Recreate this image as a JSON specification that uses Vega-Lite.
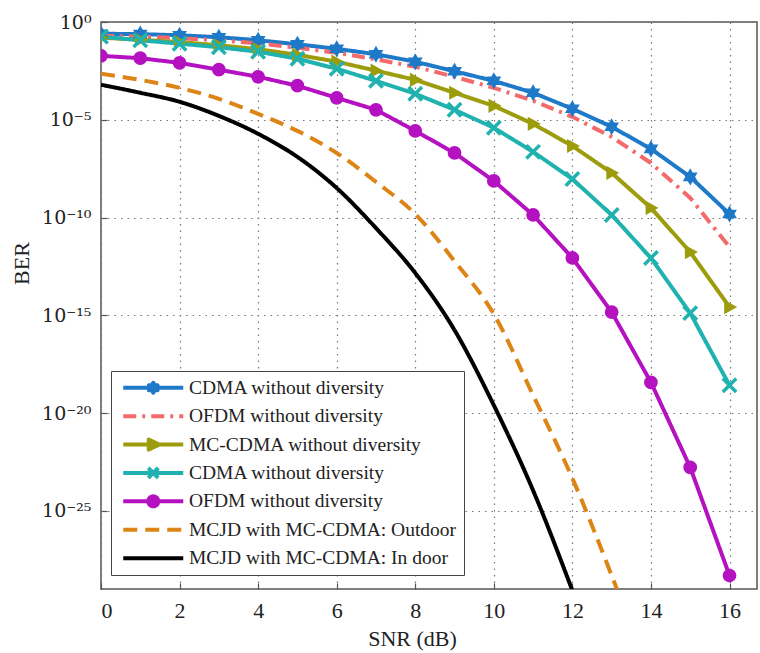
{
  "$schema": "https://vega.github.io/schema/vega-lite/v6.json",
  "autosize": "none",
  "padding": {"left": 101, "top": 22, "right": 3, "bottom": 64},
  "width": 656,
  "height": 567,
  "background": "white",
  "config": {
    "view": {"stroke": "#555555", "strokeWidth": 1.5},
    "font": "Liberation Serif",
    "axis": {
      "labelFont": "Liberation Serif",
      "titleFont": "Liberation Serif",
      "labelFontSize": 22,
      "titleFontSize": 22,
      "titleFontWeight": "normal",
      "labelColor": "#222222",
      "titleColor": "#222222",
      "domain": false,
      "tickColor": "#555555",
      "tickSize": -6,
      "tickWidth": 1.2,
      "grid": true,
      "gridColor": "#777777",
      "gridDash": [1.5, 5],
      "gridWidth": 1.2,
      "gridOpacity": 1
    },
    "legend": {
      "orient": "none",
      "legendX": 10,
      "legendY": 349,
      "labelFont": "Liberation Serif",
      "labelFontSize": 19.5,
      "labelColor": "#222222",
      "symbolSize": 100,
      "symbolStrokeWidth": 4,
      "rowPadding": 7.4,
      "padding": 7,
      "strokeColor": "#444444",
      "fillColor": "white",
      "symbolOffset": 25.5,
      "labelOffset": 26,
      "labelLimit": 400
    }
  },
  "data": {
    "values": [
      {"snr": 0, "ber": 2.51e-1, "series": "CDMA without diversity #1"},
      {"snr": 1, "ber": 2.40e-1, "series": "CDMA without diversity #1"},
      {"snr": 2, "ber": 2.09e-1, "series": "CDMA without diversity #1"},
      {"snr": 3, "ber": 1.66e-1, "series": "CDMA without diversity #1"},
      {"snr": 4, "ber": 1.17e-1, "series": "CDMA without diversity #1"},
      {"snr": 5, "ber": 7.24e-2, "series": "CDMA without diversity #1"},
      {"snr": 6, "ber": 4.27e-2, "series": "CDMA without diversity #1"},
      {"snr": 7, "ber": 2.24e-2, "series": "CDMA without diversity #1"},
      {"snr": 8, "ber": 9.33e-3, "series": "CDMA without diversity #1"},
      {"snr": 9, "ber": 3.02e-3, "series": "CDMA without diversity #1"},
      {"snr": 10, "ber": 9.77e-4, "series": "CDMA without diversity #1"},
      {"snr": 11, "ber": 2.40e-4, "series": "CDMA without diversity #1"},
      {"snr": 12, "ber": 3.63e-5, "series": "CDMA without diversity #1"},
      {"snr": 13, "ber": 4.37e-6, "series": "CDMA without diversity #1"},
      {"snr": 14, "ber": 3.24e-7, "series": "CDMA without diversity #1"},
      {"snr": 15, "ber": 1.20e-8, "series": "CDMA without diversity #1"},
      {"snr": 16, "ber": 1.51e-10, "series": "CDMA without diversity #1"},

      {"snr": 0, "ber": 2.00e-1, "series": "OFDM without diversity #2"},
      {"snr": 1, "ber": 1.78e-1, "series": "OFDM without diversity #2"},
      {"snr": 2, "ber": 1.48e-1, "series": "OFDM without diversity #2"},
      {"snr": 3, "ber": 1.17e-1, "series": "OFDM without diversity #2"},
      {"snr": 4, "ber": 8.13e-2, "series": "OFDM without diversity #2"},
      {"snr": 5, "ber": 4.79e-2, "series": "OFDM without diversity #2"},
      {"snr": 6, "ber": 2.69e-2, "series": "OFDM without diversity #2"},
      {"snr": 7, "ber": 1.23e-2, "series": "OFDM without diversity #2"},
      {"snr": 8, "ber": 5.13e-3, "series": "OFDM without diversity #2"},
      {"snr": 9, "ber": 1.58e-3, "series": "OFDM without diversity #2"},
      {"snr": 10, "ber": 4.27e-4, "series": "OFDM without diversity #2"},
      {"snr": 11, "ber": 9.33e-5, "series": "OFDM without diversity #2"},
      {"snr": 12, "ber": 1.41e-5, "series": "OFDM without diversity #2"},
      {"snr": 13, "ber": 1.32e-6, "series": "OFDM without diversity #2"},
      {"snr": 14, "ber": 6.17e-8, "series": "OFDM without diversity #2"},
      {"snr": 15, "ber": 1.00e-9, "series": "OFDM without diversity #2"},
      {"snr": 16, "ber": 3.09e-12, "series": "OFDM without diversity #2"},

      {"snr": 0, "ber": 1.58e-1, "series": "MC-CDMA without diversity #3"},
      {"snr": 1, "ber": 1.23e-1, "series": "MC-CDMA without diversity #3"},
      {"snr": 2, "ber": 9.33e-2, "series": "MC-CDMA without diversity #3"},
      {"snr": 3, "ber": 6.46e-2, "series": "MC-CDMA without diversity #3"},
      {"snr": 4, "ber": 4.07e-2, "series": "MC-CDMA without diversity #3"},
      {"snr": 5, "ber": 2.09e-2, "series": "MC-CDMA without diversity #3"},
      {"snr": 6, "ber": 9.33e-3, "series": "MC-CDMA without diversity #3"},
      {"snr": 7, "ber": 3.24e-3, "series": "MC-CDMA without diversity #3"},
      {"snr": 8, "ber": 1.10e-3, "series": "MC-CDMA without diversity #3"},
      {"snr": 9, "ber": 2.40e-4, "series": "MC-CDMA without diversity #3"},
      {"snr": 10, "ber": 5.13e-5, "series": "MC-CDMA without diversity #3"},
      {"snr": 11, "ber": 6.17e-6, "series": "MC-CDMA without diversity #3"},
      {"snr": 12, "ber": 4.57e-7, "series": "MC-CDMA without diversity #3"},
      {"snr": 13, "ber": 1.91e-8, "series": "MC-CDMA without diversity #3"},
      {"snr": 14, "ber": 3.09e-10, "series": "MC-CDMA without diversity #3"},
      {"snr": 15, "ber": 1.70e-12, "series": "MC-CDMA without diversity #3"},
      {"snr": 16, "ber": 2.63e-15, "series": "MC-CDMA without diversity #3"},

      {"snr": 0, "ber": 1.78e-1, "series": "CDMA without diversity #4"},
      {"snr": 1, "ber": 1.17e-1, "series": "CDMA without diversity #4"},
      {"snr": 2, "ber": 7.76e-2, "series": "CDMA without diversity #4"},
      {"snr": 3, "ber": 5.13e-2, "series": "CDMA without diversity #4"},
      {"snr": 4, "ber": 3.02e-2, "series": "CDMA without diversity #4"},
      {"snr": 5, "ber": 1.32e-2, "series": "CDMA without diversity #4"},
      {"snr": 6, "ber": 4.07e-3, "series": "CDMA without diversity #4"},
      {"snr": 7, "ber": 9.77e-4, "series": "CDMA without diversity #4"},
      {"snr": 8, "ber": 2.14e-4, "series": "CDMA without diversity #4"},
      {"snr": 9, "ber": 3.24e-5, "series": "CDMA without diversity #4"},
      {"snr": 10, "ber": 3.89e-6, "series": "CDMA without diversity #4"},
      {"snr": 11, "ber": 2.29e-7, "series": "CDMA without diversity #4"},
      {"snr": 12, "ber": 9.33e-9, "series": "CDMA without diversity #4"},
      {"snr": 13, "ber": 1.35e-10, "series": "CDMA without diversity #4"},
      {"snr": 14, "ber": 8.51e-13, "series": "CDMA without diversity #4"},
      {"snr": 15, "ber": 1.29e-15, "series": "CDMA without diversity #4"},
      {"snr": 16, "ber": 2.63e-19, "series": "CDMA without diversity #4"},

      {"snr": 0, "ber": 1.86e-2, "series": "OFDM without diversity #5"},
      {"snr": 1, "ber": 1.41e-2, "series": "OFDM without diversity #5"},
      {"snr": 2, "ber": 8.13e-3, "series": "OFDM without diversity #5"},
      {"snr": 3, "ber": 3.63e-3, "series": "OFDM without diversity #5"},
      {"snr": 4, "ber": 1.58e-3, "series": "OFDM without diversity #5"},
      {"snr": 5, "ber": 5.50e-4, "series": "OFDM without diversity #5"},
      {"snr": 6, "ber": 1.32e-4, "series": "OFDM without diversity #5"},
      {"snr": 7, "ber": 3.24e-5, "series": "OFDM without diversity #5"},
      {"snr": 8, "ber": 2.69e-6, "series": "OFDM without diversity #5"},
      {"snr": 9, "ber": 2.00e-7, "series": "OFDM without diversity #5"},
      {"snr": 10, "ber": 7.41e-9, "series": "OFDM without diversity #5"},
      {"snr": 11, "ber": 1.35e-10, "series": "OFDM without diversity #5"},
      {"snr": 12, "ber": 8.51e-13, "series": "OFDM without diversity #5"},
      {"snr": 13, "ber": 1.45e-15, "series": "OFDM without diversity #5"},
      {"snr": 14, "ber": 3.72e-19, "series": "OFDM without diversity #5"},
      {"snr": 15, "ber": 1.66e-23, "series": "OFDM without diversity #5"},
      {"snr": 16, "ber": 4.90e-29, "series": "OFDM without diversity #5"},

      {"snr": 0, "ber": 2.24e-3, "series": "MCJD with MC-CDMA: Outdoor #6"},
      {"snr": 1, "ber": 1.10e-3, "series": "MCJD with MC-CDMA: Outdoor #6"},
      {"snr": 2, "ber": 4.27e-4, "series": "MCJD with MC-CDMA: Outdoor #6"},
      {"snr": 3, "ber": 1.17e-4, "series": "MCJD with MC-CDMA: Outdoor #6"},
      {"snr": 4, "ber": 2.00e-5, "series": "MCJD with MC-CDMA: Outdoor #6"},
      {"snr": 5, "ber": 2.69e-6, "series": "MCJD with MC-CDMA: Outdoor #6"},
      {"snr": 6, "ber": 2.00e-7, "series": "MCJD with MC-CDMA: Outdoor #6"},
      {"snr": 7, "ber": 6.61e-9, "series": "MCJD with MC-CDMA: Outdoor #6"},
      {"snr": 8, "ber": 1.51e-10, "series": "MCJD with MC-CDMA: Outdoor #6"},
      {"snr": 9, "ber": 5.89e-13, "series": "MCJD with MC-CDMA: Outdoor #6"},
      {"snr": 10, "ber": 1.15e-15, "series": "MCJD with MC-CDMA: Outdoor #6"},
      {"snr": 11, "ber": 8.13e-20, "series": "MCJD with MC-CDMA: Outdoor #6"},
      {"snr": 12, "ber": 4.57e-24, "series": "MCJD with MC-CDMA: Outdoor #6"},
      {"snr": 13, "ber": 4.90e-29, "series": "MCJD with MC-CDMA: Outdoor #6"},
      {"snr": 14, "ber": 2.04e-34, "series": "MCJD with MC-CDMA: Outdoor #6"},

      {"snr": 0, "ber": 6.17e-4, "series": "MCJD with MC-CDMA: In door #7"},
      {"snr": 1, "ber": 2.40e-4, "series": "MCJD with MC-CDMA: In door #7"},
      {"snr": 2, "ber": 8.32e-5, "series": "MCJD with MC-CDMA: In door #7"},
      {"snr": 3, "ber": 1.58e-5, "series": "MCJD with MC-CDMA: In door #7"},
      {"snr": 4, "ber": 1.91e-6, "series": "MCJD with MC-CDMA: In door #7"},
      {"snr": 5, "ber": 1.26e-7, "series": "MCJD with MC-CDMA: In door #7"},
      {"snr": 6, "ber": 3.24e-9, "series": "MCJD with MC-CDMA: In door #7"},
      {"snr": 7, "ber": 2.88e-11, "series": "MCJD with MC-CDMA: In door #7"},
      {"snr": 8, "ber": 1.45e-13, "series": "MCJD with MC-CDMA: In door #7"},
      {"snr": 9, "ber": 1.74e-16, "series": "MCJD with MC-CDMA: In door #7"},
      {"snr": 10, "ber": 2.51e-20, "series": "MCJD with MC-CDMA: In door #7"},
      {"snr": 11, "ber": 1.10e-24, "series": "MCJD with MC-CDMA: In door #7"},
      {"snr": 12, "ber": 8.32e-30, "series": "MCJD with MC-CDMA: In door #7"}
    ]
  },
  "encoding": {
    "x": {
      "field": "snr",
      "type": "quantitative",
      "title": "SNR (dB)",
      "scale": {"domain": [0, 16.7], "nice": false, "zero": false},
      "axis": {"values": [0, 2, 4, 6, 8, 10, 12, 14, 16], "labelPadding": 17, "titleX": 311, "titleY": 49, "titleBaseline": "middle", "titleAlign": "center"}
    },
    "y": {
      "field": "ber",
      "type": "quantitative",
      "title": "BER",
      "scale": {"type": "log", "domain": [1e-29, 1], "nice": false},
      "axis": {
        "values": [1, 1e-5, 1e-10, 1e-15, 1e-20, 1e-25],
        "labelPadding": 16,
        "labelFont": "DejaVu Serif",
        "labelFontSize": 19,
        "labelExpr": "datum.value >= 0.5 ? '10⁰' : datum.value >= 5e-6 ? '10⁻⁵' : datum.value >= 5e-11 ? '10⁻¹⁰' : datum.value >= 5e-16 ? '10⁻¹⁵' : datum.value >= 5e-21 ? '10⁻²⁰' : '10⁻²⁵'",
        "titleX": -80,
        "titleY": 241,
        "titleBaseline": "middle",
        "titleAlign": "center"
      }
    }
  },
  "layer": [
    {
      "transform": [{"filter": "datum.snr == 0"}],
      "mark": {"type": "point", "filled": true, "opacity": 0, "strokeWidth": 4},
      "encoding": {
        "color": {
          "field": "series", "type": "nominal",
          "scale": {
            "domain": ["CDMA without diversity #1", "OFDM without diversity #2", "MC-CDMA without diversity #3", "CDMA without diversity #4", "OFDM without diversity #5", "MCJD with MC-CDMA: Outdoor #6", "MCJD with MC-CDMA: In door #7"],
            "range": ["#1e79c8", "#f46a6a", "#9c9c0c", "#20b2ae", "#b412c0", "#dd8416", "#000000"]
          },
          "legend": {"title": null, "orient": "none", "legendX": 10, "legendY": 349, "symbolOpacity": 1,
            "labelExpr": "slice(datum.label, 0, indexof(datum.label, ' #'))",
            "encode": {"symbols": {"update": {"stroke": {"scale": "color", "field": "value"}, "opacity": {"value": 1}, "strokeJoin": {"value": "round"}}}}}
        },
        "shape": {
          "field": "series", "type": "nominal",
          "scale": {
            "domain": ["CDMA without diversity #1", "OFDM without diversity #2", "MC-CDMA without diversity #3", "CDMA without diversity #4", "OFDM without diversity #5", "MCJD with MC-CDMA: Outdoor #6", "MCJD with MC-CDMA: In door #7"],
            "range": [
              "M-6,0H6M0,-1L0.29,-0.5L0.87,-0.5L0.58,0L0.87,0.5L0.29,0.5L0,1L-0.29,0.5L-0.87,0.5L-0.58,0L-0.87,-0.5L-0.29,-0.5Z",
              "M-6,0H6",
              "M-6,0H6M1.2,0L-0.9,1L-0.9,-1Z",
              "M-6,0H6M-1,-1L1,1M-1,1L1,-1",
              "M-6,0H6M1,0A1,1 0 1,1 -1,0A1,1 0 1,1 1,0Z",
              "M-6,0H6",
              "M-6,0H6"
            ]
          },
          "legend": {"title": null, "orient": "none", "legendX": 10, "legendY": 349, "symbolOpacity": 1,
            "labelExpr": "slice(datum.label, 0, indexof(datum.label, ' #'))",
            "encode": {"symbols": {"update": {"stroke": {"scale": "color", "field": "value"}, "opacity": {"value": 1}, "strokeJoin": {"value": "round"}}}}}
        },
        "strokeDash": {
          "field": "series", "type": "nominal",
          "scale": {
            "domain": ["CDMA without diversity #1", "OFDM without diversity #2", "MC-CDMA without diversity #3", "CDMA without diversity #4", "OFDM without diversity #5", "MCJD with MC-CDMA: Outdoor #6", "MCJD with MC-CDMA: In door #7"],
            "range": [[1, 0], [13, 6, 3, 6], [1, 0], [1, 0], [1, 0], [14, 8], [1, 0]]
          },
          "legend": {"title": null, "orient": "none", "legendX": 10, "legendY": 349, "symbolOpacity": 1,
            "labelExpr": "slice(datum.label, 0, indexof(datum.label, ' #'))",
            "encode": {"symbols": {"update": {"stroke": {"scale": "color", "field": "value"}, "opacity": {"value": 1}, "strokeJoin": {"value": "round"}}}}}
        }
      }
    },
    {
      "transform": [{"filter": "indexof(datum.series, 'MCJD') < 0"}],
      "mark": {"type": "line", "strokeWidth": 4, "clip": true},
      "encoding": {
        "color": {"field": "series", "type": "nominal"},
        "strokeDash": {"field": "series", "type": "nominal"}
      }
    },
    {
      "transform": [{"filter": "indexof(datum.series, 'MCJD') >= 0"}],
      "mark": {"type": "line", "strokeWidth": 4, "clip": true, "interpolate": "monotone"},
      "encoding": {
        "color": {"field": "series", "type": "nominal"},
        "strokeDash": {"field": "series", "type": "nominal"}
      }
    },
    {
      "transform": [{"filter": "datum.series == 'CDMA without diversity #1'"}],
      "mark": {"type": "point", "filled": true, "fill": "#1e79c8", "stroke": "#1e79c8", "strokeWidth": 2, "opacity": 1, "size": 170, "clip": true,
        "shape": "M0,-1L0.289,-0.5L0.866,-0.5L0.577,0L0.866,0.5L0.289,0.5L0,1L-0.289,0.5L-0.866,0.5L-0.577,0L-0.866,-0.5L-0.289,-0.5Z"}
    },
    {
      "transform": [{"filter": "datum.series == 'MC-CDMA without diversity #3'"}],
      "mark": {"type": "point", "filled": true, "fill": "#9c9c0c", "stroke": "#9c9c0c", "strokeWidth": 1.5, "opacity": 1, "size": 150, "clip": true,
        "shape": "M1,0L-0.75,0.95L-0.75,-0.95Z"}
    },
    {
      "transform": [{"filter": "datum.series == 'CDMA without diversity #4'"}],
      "mark": {"type": "point", "filled": false, "stroke": "#20b2ae", "strokeWidth": 3.5, "opacity": 1, "size": 180, "clip": true,
        "shape": "M-1,-1L1,1M-1,1L1,-1"}
    },
    {
      "transform": [{"filter": "datum.series == 'OFDM without diversity #5'"}],
      "mark": {"type": "point", "filled": true, "fill": "#b412c0", "stroke": "#b412c0", "strokeWidth": 1.5, "opacity": 1, "size": 150, "clip": true,
        "shape": "M1,0A1,1 0 1,1 -1,0A1,1 0 1,1 1,0Z"}
    }
  ]
}
